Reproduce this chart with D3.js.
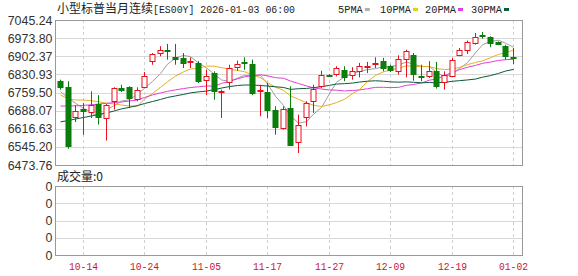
<!DOCTYPE html>
<html>
<head>
<meta charset="utf-8">
<script src="https://cdn.jsdelivr.net/npm/d3@7"></script>
<style>
  body { margin: 0; background: #fff; }
  svg { display: block; }
  .mono { font-family: "Liberation Mono", monospace; font-size: 11.5px; }
  .cjk { font-family: "Noto Sans CJK SC", sans-serif; font-size: 12px; }
  .axis { font-family: "Liberation Sans", Arial, sans-serif; font-size: 12.4px; fill: #333; }
</style>
</head>
<body>
<div id="chart"></div>
<script>
let width = 578, height = 276;

// trading days
let dates = ["10-09","10-10","10-13","10-14","10-15","10-16","10-17","10-20","10-21","10-22",
  "10-23","10-24","10-27","10-28","10-29","10-30","10-31","11-03","11-04","11-05",
  "11-06","11-07","11-10","11-11","11-12","11-13","11-14","11-17","11-18","11-19",
  "11-20","11-21","11-24","11-25","11-26","11-27","11-28","12-01","12-02","12-03",
  "12-04","12-05","12-08","12-09","12-10","12-11","12-12","12-15","12-16","12-17",
  "12-18","12-19","12-22","12-23","12-24","12-26","12-29","12-30","12-31","01-02"];

let opens = [6804,6780,6662,6696,6683,6714,6659,6725,6777,6780,6734,6780,6883,6915,6926,6899,6896,6880,6876,6806,
  6836,6764,6801,6860,6879,6872,6768,6762,6692,6622,6698,6564,6662,6727,6784,6827,6832,6849,6827,6843,
  6859,6872,6885,6863,6845,6889,6906,6823,6823,6845,6801,6827,6909,6928,6955,6987,6977,6959,6942,6899];
let highs = [6810,6804,6709,6718,6764,6749,6714,6780,6790,6784,6780,6840,6915,6942,6951,6951,6915,6898,6883,6849,
  6843,6771,6869,6885,6898,6889,6790,6797,6705,6705,6784,6672,6725,6790,6845,6832,6863,6863,6859,6876,
  6880,6898,6896,6869,6906,6928,6915,6869,6883,6880,6843,6896,6935,6964,6994,6998,6981,6961,6948,6935];
let lows = [6771,6538,6643,6593,6659,6633,6570,6692,6762,6698,6725,6777,6869,6902,6889,6869,6856,6856,6797,6749,
  6731,6659,6771,6845,6849,6749,6666,6659,6593,6613,6549,6521,6626,6679,6777,6821,6823,6804,6810,6819,
  6836,6856,6843,6840,6830,6819,6806,6804,6817,6775,6771,6819,6902,6911,6948,6972,6938,6946,6889,6872];
let closes = [6780,6548,6685,6688,6709,6662,6709,6777,6771,6738,6771,6823,6911,6928,6922,6892,6876,6885,6806,6823,
  6764,6767,6856,6872,6876,6758,6771,6692,6626,6696,6551,6630,6718,6775,6827,6825,6856,6823,6843,6863,
  6863,6876,6859,6849,6893,6922,6830,6819,6843,6784,6827,6889,6928,6959,6977,6985,6955,6951,6902,6897];

// moving average values before a full window is available
let ma5Head = [6763,6737,6717,6697];
let ma10Head = [6750,6733,6730,6730,6727,6723,6717,6714,6710];
let ma20Head = [6706,6706,6707,6709,6711,6714,6717,6720,6722,6726,6730,6740,6750,6758,6764,6770,6775,6779,6782];
let ma30Head = [6644,6649,6655,6661,6667,6673,6679,6687,6695,6701,6708,6716,6724,6732,6740,6746,6752,6758,6762,
  6765,6771,6777,6783,6787,6789,6789,6787,6785,6782];

let yTicks = [7045.24,6973.80,6902.37,6830.93,6759.50,6688.07,6616.63,6545.20,6473.76];
let dateTicks = ["10-14","10-24","11-05","11-17","11-27","12-09","12-19","01-02"];
let volTicks = [0,1,2,3,4];

let maNames = ["5PMA","10PMA","20PMA","30PMA"];
let maColors = ["#a0a0a0","#e8b020","#e040d8","#0a5a3a"];
let legendColors = ["#b0b0b0","#e0d020","#e040d8","#0a5a3a"];

let up = "#e8101c", down = "#0b7d0b";

let plotLeft = 55.5, plotRight = 522.5, plotTop = 20, plotBottom = 165;
let vTop = 186, vBottom = 255;

let svg = d3.select("#chart").append("svg")
    .attr("width", width)
    .attr("height", height);

let x = d3.scaleBand().domain(dates).range([56, 517]);
let y = d3.scaleLinear().domain([6473.76, 7045.24]).range([plotBottom, plotTop]);
let yv = d3.scaleLinear().domain([0, 4]).range([vBottom, vTop]);
let cx = d => Math.round(x(d) + x.bandwidth() / 2) + 0.5;

function movingAvg(n, head){
    return closes.map((c, i) => i < n - 1 ? head[i] : d3.mean(closes.slice(i - n + 1, i + 1)));
}
let mas = [movingAvg(5, ma5Head), movingAvg(10, ma10Head), movingAvg(20, ma20Head), movingAvg(30, ma30Head)];

// grid lines
svg.append("g").selectAll("line")
    .data(yTicks.slice(1, -1))
    .enter().append("line")
    .attr("x1", plotLeft).attr("x2", plotRight)
    .attr("y1", d => Math.round(y(d)) + 0.5).attr("y2", d => Math.round(y(d)) + 0.5)
    .attr("stroke", "#d8d8d8");

svg.append("g").selectAll("line")
    .data(volTicks.slice(1, -1))
    .enter().append("line")
    .attr("x1", plotLeft).attr("x2", plotRight)
    .attr("y1", d => Math.round(yv(d)) + 0.5).attr("y2", d => Math.round(yv(d)) + 0.5)
    .attr("stroke", "#d8d8d8");

[[plotTop, plotBottom], [vTop, vBottom]].forEach(([t, b]) => {
    svg.append("g").selectAll("line")
        .data(dateTicks)
        .enter().append("line")
        .attr("x1", d => cx(d)).attr("x2", d => cx(d))
        .attr("y1", t).attr("y2", b)
        .attr("stroke", "#d0d0d0")
        .attr("stroke-dasharray", "3,3");
});

// moving averages
let line = d3.line().x((d, i) => cx(dates[i])).y(d => y(d));
mas.forEach((m, k) => {
    svg.append("path")
        .attr("d", line(m))
        .attr("fill", "none")
        .attr("stroke", maColors[k])
        .attr("stroke-width", 1);
});

// candles
let candles = svg.append("g").selectAll("g")
    .data(dates)
    .enter().append("g");

candles.append("line")
    .attr("x1", d => cx(d)).attr("x2", d => cx(d))
    .attr("y1", (d, i) => y(highs[i])).attr("y2", (d, i) => y(lows[i]))
    .attr("stroke", (d, i) => closes[i] >= opens[i] ? up : down);

candles.append("rect")
    .attr("x", d => cx(d) - 2.5)
    .attr("width", 5)
    .attr("y", (d, i) => Math.round(y(Math.max(opens[i], closes[i]))) + 0.5)
    .attr("height", (d, i) => Math.max(1, Math.round(Math.abs(y(opens[i]) - y(closes[i])))))
    .attr("fill", (d, i) => closes[i] >= opens[i] ? "#fff" : down)
    .attr("stroke", (d, i) => closes[i] >= opens[i] ? up : down);

// frames
svg.append("rect")
    .attr("x", plotLeft).attr("y", plotTop + 0.5)
    .attr("width", plotRight - plotLeft).attr("height", plotBottom - plotTop)
    .attr("fill", "none").attr("stroke", "#999");
svg.append("rect")
    .attr("x", plotLeft).attr("y", vTop + 0.5)
    .attr("width", plotRight - plotLeft).attr("height", vBottom - vTop)
    .attr("fill", "none").attr("stroke", "#999");

// axis labels
svg.append("g").selectAll("text")
    .data(yTicks)
    .enter().append("text")
    .attr("class", "axis")
    .attr("x", 52.5)
    .attr("y", d => y(d) + 4.5)
    .attr("text-anchor", "end")
    .text(d => d.toFixed(2));

svg.append("g").selectAll("text")
    .data(volTicks)
    .enter().append("text")
    .attr("class", "axis")
    .attr("x", 52.5)
    .attr("y", d => yv(d) + 4.5)
    .attr("text-anchor", "end")
    .text("0");

svg.append("g").selectAll("text")
    .data(dateTicks)
    .enter().append("text")
    .attr("class", "mono")
    .attr("x", d => cx(d))
    .attr("y", 270)
    .attr("text-anchor", "middle")
    .attr("textLength", 29)
    .attr("lengthAdjust", "spacingAndGlyphs")
    .attr("fill", "#d0102c")
    .text(d => d);

// title
svg.append("text")
    .attr("class", "cjk")
    .attr("x", 57).attr("y", 13)
    .attr("fill", "#222")
    .text("小型标普当月连续");
svg.append("text")
    .attr("class", "mono")
    .attr("x", 153).attr("y", 13)
    .attr("textLength", 142)
    .attr("lengthAdjust", "spacingAndGlyphs")
    .attr("fill", "#222")
    .text("[ES00Y] 2026-01-03 06:00");

svg.append("text")
    .attr("class", "cjk")
    .attr("x", 57).attr("y", 181)
    .attr("fill", "#222")
    .text("成交量:0");

// legend
let legendX = [338, 380, 425, 471];
maNames.forEach((n, k) => {
    let w = n.length * 6.2;
    svg.append("text")
        .attr("class", "mono")
        .attr("x", legendX[k]).attr("y", 13)
        .attr("textLength", w)
        .attr("lengthAdjust", "spacingAndGlyphs")
        .attr("fill", "#222")
        .text(n);
    svg.append("rect")
        .attr("x", legendX[k] + w + 2).attr("y", 8)
        .attr("width", 5).attr("height", 3)
        .attr("fill", legendColors[k]);
});
</script>
</body>
</html>
